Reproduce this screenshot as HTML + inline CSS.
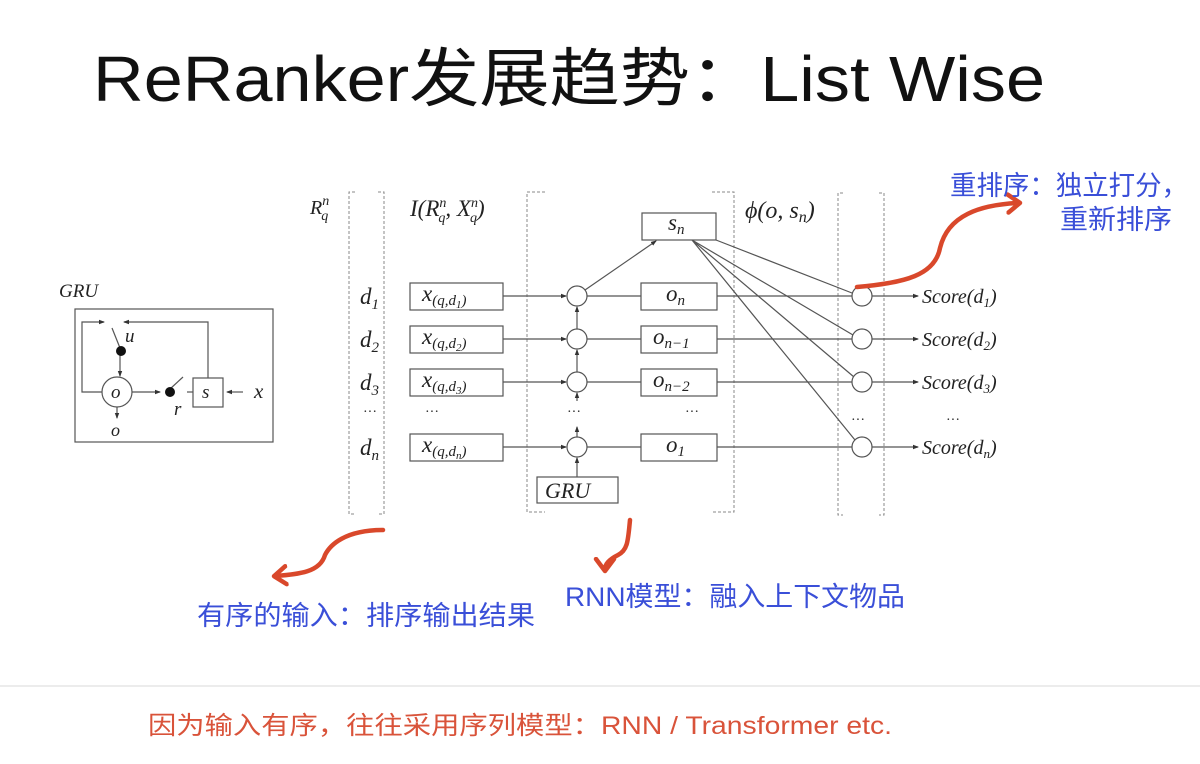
<!DOCTYPE html>
<html><head><meta charset="utf-8"><style>
html,body{margin:0;padding:0;background:#fff;width:1200px;height:764px;overflow:hidden}
svg{display:block}
.m{font-family:"Liberation Serif","DejaVu Serif",serif;font-style:italic;fill:#222}
.cn{font-family:"Liberation Sans","Noto Sans CJK SC",sans-serif;fill:#3a4fd8}
</style></head><body>
<svg width="1200" height="764" viewBox="0 0 1200 764" xmlns="http://www.w3.org/2000/svg">
<defs>
<marker id="a" markerWidth="6" markerHeight="6" refX="5" refY="3" orient="auto" markerUnits="userSpaceOnUse"><path d="M0,0.8 L6,3 L0,5.2z" fill="#333"/></marker>
<marker id="ra" markerWidth="24" markerHeight="24" refX="12" refY="12" orient="auto" markerUnits="userSpaceOnUse"><path d="M2,3 L14,12 L2,21" fill="none" stroke="#d9482b" stroke-width="4.5" stroke-linecap="round" stroke-linejoin="round"/></marker>
</defs>
<text x="93" y="101" font-family="'Liberation Sans','Noto Sans CJK SC',sans-serif" font-size="64" fill="#111" textLength="952" lengthAdjust="spacingAndGlyphs">ReRanker发展趋势：List Wise</text>

<g stroke="#555" stroke-width="1.2" fill="none">
<rect x="75" y="309" width="198" height="133"/>
<circle cx="117" cy="392" r="15" fill="#fff"/>
<path d="M102,392 H82 V322 H104" marker-end="url(#a)"/>
<path d="M208,380 V322 H124" marker-end="url(#a)"/>
<path d="M112,328 L120,348"/>
<path d="M120,352 V376" marker-end="url(#a)"/>
<path d="M132,392 H160" marker-end="url(#a)"/>
<path d="M170,389 L183,377"/>
<path d="M187,392 H193"/>
<rect x="193" y="378" width="30" height="29" fill="#fff"/>
<path d="M243,392 H227" marker-end="url(#a)"/>
<path d="M117,407 V418" marker-end="url(#a)"/>
</g>
<circle cx="121" cy="351" r="5" fill="#111"/>
<circle cx="170" cy="392" r="5" fill="#111"/>
<text class="m" x="59" y="297" font-size="19">GRU</text>
<text class="m" x="125" y="342" font-size="19">u</text>
<text class="m" x="111" y="398" font-size="19">o</text>
<text class="m" x="111" y="436" font-size="18">o</text>
<text class="m" x="174" y="415" font-size="19">r</text>
<text class="m" x="202" y="398" font-size="19">s</text>
<text class="m" x="254" y="398" font-size="21">x</text>

<g stroke="#888" stroke-width="1" fill="none" stroke-dasharray="3,2">
<path d="M355,192 H349 V514 H355"/>
<path d="M378,192 H384 V514 H378"/>
<path d="M545,192 H527 V512 H545"/>
<path d="M712,192 H734 V512 H712"/>
<path d="M843,193 H838 V515 H843"/>
<path d="M879,193 H884 V515 H879"/>
</g>

<text class="m" x="310" y="214" font-size="20">R<tspan font-size="14" dy="-9">n</tspan><tspan font-size="14" dx="-8" dy="15">q</tspan></text>
<text class="m" x="410" y="216" font-size="23">I(R<tspan font-size="14" dy="-9">n</tspan><tspan font-size="14" dx="-8" dy="15">q</tspan><tspan dy="-6">, X</tspan><tspan font-size="14" dy="-9">n</tspan><tspan font-size="14" dx="-8" dy="15">q</tspan><tspan dy="-6">)</tspan></text>
<text class="m" x="745" y="218" font-size="24">ϕ(o, s<tspan font-size="16" dy="4">n</tspan><tspan dy="-4">)</tspan></text>

<g stroke="#555" stroke-width="1.2" fill="none">
<rect x="410" y="283" width="93" height="27"/>
<rect x="410" y="326" width="93" height="27"/>
<rect x="410" y="369" width="93" height="27"/>
<rect x="410" y="434" width="93" height="27"/>
<path d="M503,296 H566" marker-end="url(#a)"/>
<path d="M503,339 H566" marker-end="url(#a)"/>
<path d="M503,382 H566" marker-end="url(#a)"/>
<path d="M503,447 H566" marker-end="url(#a)"/>
<circle cx="577" cy="296" r="10"/>
<circle cx="577" cy="339" r="10"/>
<circle cx="577" cy="382" r="10"/>
<circle cx="577" cy="447" r="10"/>
<path d="M577,329 V307" marker-end="url(#a)"/>
<path d="M577,372 V350" marker-end="url(#a)"/>
<path d="M577,401 V393" marker-end="url(#a)"/>
<path d="M577,437 V427" marker-end="url(#a)"/>
<path d="M577,477 V458" marker-end="url(#a)"/>
<rect x="537" y="477" width="81" height="26"/>
<path d="M587,296 H641 M587,339 H641 M587,382 H641 M587,447 H641"/>
<rect x="641" y="283" width="76" height="27"/>
<rect x="641" y="326" width="76" height="27"/>
<rect x="641" y="369" width="76" height="27"/>
<rect x="641" y="434" width="76" height="27"/>
<rect x="642" y="213" width="74" height="27"/>
<path d="M585,290 L656,241" marker-end="url(#a)"/>
<path d="M717,296 H852 M717,339 H852 M717,382 H852 M717,447 H852"/>
<path d="M716,240 L852,293 M692,240 L853,335 M692,240 L854,377 M692,240 L855,440"/>
<circle cx="862" cy="296" r="10" fill="#fff"/>
<circle cx="862" cy="339" r="10" fill="#fff"/>
<circle cx="862" cy="382" r="10" fill="#fff"/>
<circle cx="862" cy="447" r="10" fill="#fff"/>
<path d="M872,296 H918" marker-end="url(#a)"/>
<path d="M872,339 H918" marker-end="url(#a)"/>
<path d="M872,382 H918" marker-end="url(#a)"/>
<path d="M872,447 H918" marker-end="url(#a)"/>
</g>

<g class="m" font-size="23">
<text x="360" y="304">d<tspan font-size="15" dy="5">1</tspan></text>
<text x="360" y="347">d<tspan font-size="15" dy="5">2</tspan></text>
<text x="360" y="390">d<tspan font-size="15" dy="5">3</tspan></text>
<text x="360" y="455">d<tspan font-size="15" dy="5">n</tspan></text>
<text x="363" y="416" font-size="14" font-style="normal">···</text>
<text x="425" y="416" font-size="14" font-style="normal">···</text>
<text x="567" y="416" font-size="14" font-style="normal">···</text>
<text x="685" y="416" font-size="14" font-style="normal">···</text>
<text x="851" y="424" font-size="14" font-style="normal">···</text>
<text x="946" y="424" font-size="14" font-style="normal">···</text>
<text x="422" y="301">x<tspan font-size="15" dy="4">(q,d</tspan><tspan font-size="11" dy="3">1</tspan><tspan font-size="15" dy="-3">)</tspan></text>
<text x="422" y="344">x<tspan font-size="15" dy="4">(q,d</tspan><tspan font-size="11" dy="3">2</tspan><tspan font-size="15" dy="-3">)</tspan></text>
<text x="422" y="387">x<tspan font-size="15" dy="4">(q,d</tspan><tspan font-size="11" dy="3">3</tspan><tspan font-size="15" dy="-3">)</tspan></text>
<text x="422" y="452">x<tspan font-size="15" dy="4">(q,d</tspan><tspan font-size="11" dy="3">n</tspan><tspan font-size="15" dy="-3">)</tspan></text>
<text x="666" y="301">o<tspan font-size="15" dy="4">n</tspan></text>
<text x="653" y="344">o<tspan font-size="15" dy="4">n−1</tspan></text>
<text x="653" y="387">o<tspan font-size="15" dy="4">n−2</tspan></text>
<text x="666" y="452">o<tspan font-size="15" dy="4">1</tspan></text>
<text x="668" y="230">s<tspan font-size="15" dy="4">n</tspan></text>
<text x="545" y="498" font-size="22">GRU</text>
<g font-size="20">
<text x="922" y="303">Score(d<tspan font-size="13" dy="4">1</tspan><tspan dy="-4">)</tspan></text>
<text x="922" y="346">Score(d<tspan font-size="13" dy="4">2</tspan><tspan dy="-4">)</tspan></text>
<text x="922" y="389">Score(d<tspan font-size="13" dy="4">3</tspan><tspan dy="-4">)</tspan></text>
<text x="922" y="454">Score(d<tspan font-size="13" dy="4">n</tspan><tspan dy="-4">)</tspan></text>
</g>
</g>

<g stroke="#d9482b" stroke-width="4.5" fill="none" stroke-linecap="round">
<path d="M857,287 C905,283 935,275 940,248 C948,215 980,205 1018,203" marker-end="url(#ra)"/>
<path d="M383,530 C345,530 330,545 325,555 C320,572 300,574 276,576" marker-end="url(#ra)"/>
<path d="M630,520 C628,540 628,550 618,555 C608,560 605,565 605,569" marker-end="url(#ra)"/>
</g>

<g class="cn" font-size="27">
<text x="950" y="195" textLength="238" lengthAdjust="spacingAndGlyphs">重排序：独立打分，</text>
<text x="1060" y="229" textLength="112" lengthAdjust="spacingAndGlyphs">重新排序</text>
<text x="565" y="606" textLength="340" lengthAdjust="spacingAndGlyphs">RNN模型：融入上下文物品</text>
<text x="197" y="625" textLength="338" lengthAdjust="spacingAndGlyphs">有序的输入：排序输出结果</text>
</g>
<line x1="0" y1="686" x2="1200" y2="686" stroke="#ececec" stroke-width="2"/>
<text x="148" y="734" font-family="'Liberation Sans','Noto Sans CJK SC',sans-serif" font-size="25" fill="#d9533a" textLength="744" lengthAdjust="spacingAndGlyphs">因为输入有序，往往采用序列模型：RNN / Transformer etc.</text>
</svg>
</body></html>
